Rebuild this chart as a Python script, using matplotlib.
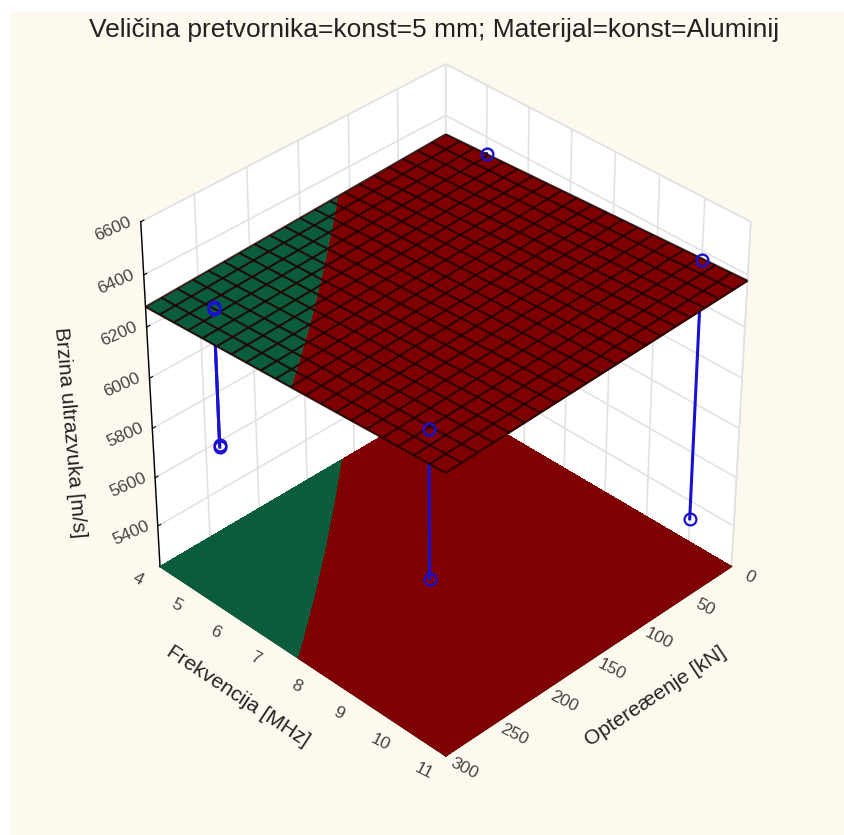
import numpy as np
import matplotlib
matplotlib.use("Agg")
import matplotlib.pyplot as plt
from matplotlib.patches import Rectangle
from mpl_toolkits.mplot3d.art3d import Poly3DCollection

plt.rcParams['font.family'] = ['Liberation Sans', 'DejaVu Sans']

TITLE = "Veličina pretvornika=konst=5 mm; Materijal=konst=Aluminij"
FREQ_LABEL = "Frekvencija [MHz]"
LOAD_LABEL = "Optereæenje [kN]"
SPEED_LABEL = "Brzina ultrazvuka [m/s]"

FREQ_TICKS = [4, 5, 6, 7, 8, 9, 10, 11]
LOAD_TICKS = [0, 50, 100, 150, 200, 250, 300]
SPEED_TICKS = [5400, 5600, 5800, 6000, 6200, 6400, 6600]
FREQ_RANGE = (4, 11)
LOAD_RANGE = (0, 300)
SPEED_RANGE = (5230, 6600)
COLOUR_LIMIT = 6308

# rows: frequency 4 to 11 in 20 steps; columns: load 300 down to 0 in 20 steps; value: speed - 6228
SURFACE = [
 [50.0,52.4,54.8,57.2,59.6,62.0,64.4,66.8,69.2,71.6,74.0,76.4,78.8,81.2,83.6,86.0,88.4,90.8,93.2,95.6,98.0],
 [53.0,55.4,57.8,60.1,62.5,64.9,67.3,69.7,72.0,74.4,76.8,79.2,81.6,83.9,86.3,88.7,91.1,93.5,95.8,98.2,100.6],
 [56.0,58.4,60.7,63.1,65.4,67.8,70.2,72.5,74.9,77.2,79.6,82.0,84.3,86.7,89.0,91.4,93.8,96.1,98.5,100.8,103.2],
 [59.0,61.3,63.7,66.0,68.4,70.7,73.0,75.4,77.7,80.1,82.4,84.7,87.1,89.4,91.8,94.1,96.4,98.8,101.1,103.5,105.8],
 [62.0,64.3,66.6,69.0,71.3,73.6,75.9,78.2,80.6,82.9,85.2,87.5,89.8,92.2,94.5,96.8,99.1,101.4,103.8,106.1,108.4],
 [65.0,67.3,69.6,71.9,74.2,76.5,78.8,81.1,83.4,85.7,88.0,90.3,92.6,94.9,97.2,99.5,101.8,104.1,106.4,108.7,111.0],
 [68.0,70.3,72.6,74.8,77.1,79.4,81.7,84.0,86.2,88.5,90.8,93.1,95.4,97.6,99.9,102.2,104.5,106.8,109.0,111.3,113.6],
 [71.0,73.3,75.5,77.8,80.0,82.3,84.6,86.8,89.1,91.3,93.6,95.9,98.1,100.4,102.6,104.9,107.2,109.4,111.7,113.9,116.2],
 [74.0,76.2,78.5,80.7,83.0,85.2,87.4,89.7,91.9,94.2,96.4,98.6,100.9,103.1,105.4,107.6,109.8,112.1,114.3,116.6,118.8],
 [77.0,79.2,81.4,83.7,85.9,88.1,90.3,92.5,94.8,97.0,99.2,101.4,103.6,105.9,108.1,110.3,112.5,114.7,117.0,119.2,121.4],
 [80.0,82.2,84.4,86.6,88.8,91.0,93.2,95.4,97.6,99.8,102.0,104.2,106.4,108.6,110.8,113.0,115.2,117.4,119.6,121.8,124.0],
 [83.0,85.2,87.4,89.5,91.7,93.9,96.1,98.3,100.4,102.6,104.8,107.0,109.2,111.3,113.5,115.7,117.9,120.1,122.2,124.4,126.6],
 [86.0,88.2,90.3,92.5,94.6,96.8,99.0,101.1,103.3,105.4,107.6,109.8,111.9,114.1,116.2,118.4,120.6,122.7,124.9,127.0,129.2],
 [89.0,91.1,93.3,95.4,97.6,99.7,101.8,104.0,106.1,108.3,110.4,112.5,114.7,116.8,119.0,121.1,123.2,125.4,127.5,129.7,131.8],
 [92.0,94.1,96.2,98.4,100.5,102.6,104.7,106.8,109.0,111.1,113.2,115.3,117.4,119.6,121.7,123.8,125.9,128.0,130.2,132.3,134.4],
 [95.0,97.1,99.2,101.3,103.4,105.5,107.6,109.7,111.8,113.9,116.0,118.1,120.2,122.3,124.4,126.5,128.6,130.7,132.8,134.9,137.0],
 [98.0,100.1,102.2,104.2,106.3,108.4,110.5,112.6,114.6,116.7,118.8,120.9,123.0,125.0,127.1,129.2,131.3,133.4,135.4,137.5,139.6],
 [101.0,103.1,105.1,107.2,109.2,111.3,113.4,115.4,117.5,119.5,121.6,123.7,125.7,127.8,129.8,131.9,134.0,136.0,138.1,140.1,142.2],
 [104.0,106.0,108.1,110.1,112.2,114.2,116.2,118.3,120.3,122.4,124.4,126.4,128.5,130.5,132.6,134.6,136.6,138.7,140.7,142.8,144.8],
 [107.0,109.0,111.0,113.1,115.1,117.1,119.1,121.1,123.2,125.2,127.2,129.2,131.2,133.3,135.3,137.3,139.3,141.3,143.4,145.4,147.4],
 [110.0,112.0,114.0,116.0,118.0,120.0,122.0,124.0,126.0,128.0,130.0,132.0,134.0,136.0,138.0,140.0,142.0,144.0,146.0,148.0,150.0],
]
SURFACE_BASE = 6228

POINT_FREQ = [4.85, 4.85, 10, 10, 5]
POINT_LOAD = [268, 268, 273, 0, 0]
POINT_FIT = [6287, 6279, 6335, 6365, 6335]
POINT_MEASURED = [5745, 5735, 5760, 5325, 6000]

GREEN = "#0b5c3c"
RED = "#7e0000"
BLUE = "#1a10d0"
CREAM = "#fdf9ef"

fig = plt.figure(figsize=(8.45, 8.35), dpi=100, facecolor="white")
fig.add_artist(Rectangle((10 / 845, 0), 835 / 845, 823 / 835, transform=fig.transFigure,
                         facecolor=CREAM, edgecolor="none", zorder=-10))
ax = fig.add_axes([12 / 845, 6.5 / 835, 1, 1], projection="3d", computed_zorder=False)
ax.patch.set_alpha(0)
ax.view_init(elev=36, azim=45)
ax.set_proj_type("persp", focal_length=0.85)
ax.set_box_aspect((1, 1, 1.02), zoom=0.846)

freq = np.linspace(*FREQ_RANGE, len(SURFACE))
load = np.linspace(*LOAD_RANGE, len(SURFACE[0]))
L, F = np.meshgrid(load, freq)
Z = SURFACE_BASE + np.array(SURFACE)[:, ::-1]

ax.set_xlim(*LOAD_RANGE)
ax.set_ylim(*FREQ_RANGE)
ax.set_zlim(*SPEED_RANGE)

levels = [Z.min() - 1, COLOUR_LIMIT, Z.max() + 1]
floor = ax.contourf(L, F, Z, levels=levels, colors=[GREEN, RED], zdir="z", offset=SPEED_RANGE[0])
floor.set_zorder(1)

for f, l, fit, meas in zip(POINT_FREQ, POINT_LOAD, POINT_FIT, POINT_MEASURED):
    ax.plot([l, l], [f, f], [meas, fit], color=BLUE, lw=2.2, zorder=2)
    ax.plot([l], [f], [meas], marker="o", ms=8.5, mfc="none", mec=BLUE, mew=1.6, zorder=2.5)


def surface_height(lv, fv):
    a = np.interp(lv, load, np.arange(len(load)))
    b = np.interp(fv, freq, np.arange(len(freq)))
    i0, j0 = min(int(b), len(freq) - 2), min(int(a), len(load) - 2)
    db, da = b - i0, a - j0
    return (Z[i0, j0] * (1 - db) * (1 - da) + Z[i0, j0 + 1] * (1 - db) * da
            + Z[i0 + 1, j0] * db * (1 - da) + Z[i0 + 1, j0 + 1] * db * da)


def lift(contour_set):
    out = []
    for path in contour_set.get_paths():
        for poly in path.to_polygons():
            out.append([(x, y, surface_height(x, y)) for x, y in poly])
    return out


helper = plt.figure().add_subplot()
parts = helper.contourf(L, F, Z, levels=levels)
polys = lift(parts)
plt.close(helper.figure)
n_green = len(parts.get_paths()[0].to_polygons())
green_coll = Poly3DCollection(polys[:n_green], facecolors=GREEN, edgecolors=GREEN, linewidths=0.3, zorder=3.1)
red_coll = Poly3DCollection(polys[n_green:], facecolors=RED, edgecolors=RED, linewidths=0.3, zorder=3)
ax.add_collection3d(red_coll)
ax.add_collection3d(green_coll)
ax.plot_wireframe(L, F, Z, rstride=1, cstride=1, color="#200000", linewidth=1.5, alpha=0.85, zorder=3.2)

for f, l, fit in zip(POINT_FREQ, POINT_LOAD, POINT_FIT):
    ax.plot([l], [f], [fit], marker="o", ms=8.5, mfc="none", mec=BLUE, mew=1.7, zorder=4)

for axis in (ax.xaxis, ax.yaxis, ax.zaxis):
    axis.set_pane_color((1, 1, 1, 1))
    axis.pane.set_edgecolor("#e2e2e2")
    axis._axinfo["grid"].update(color="#e2e2e2", linewidth=1.2)
    axis.line.set_color("black")
    axis.line.set_linewidth(1.0)
    axis._axinfo["tick"]["inward_factor"] = 0.0
    axis._axinfo["tick"]["outward_factor"] = 0.12

ax.set_xticks(LOAD_TICKS)
ax.set_yticks(FREQ_TICKS)
ax.set_zticks(SPEED_TICKS)
ax.zaxis.set_ticks_position("lower")
ax.tick_params(axis="x", labelrotation=-27, labelsize=12.5, labelcolor="#444444", pad=11)
ax.tick_params(axis="y", labelrotation=-27, labelsize=12.5, labelcolor="#444444", pad=15)
ax.tick_params(axis="z", labelrotation=24, labelsize=12.5, labelcolor="#444444", pad=8)

# keep x and y label offsets within the floor plane
ax.xaxis._axmask = lambda: (False, True, False)
ax.yaxis._axmask = lambda: (True, False, False)
for axis in (ax.xaxis, ax.yaxis):
    for t in axis.get_major_ticks():
        t.label1.set(va="center", ha="center", rotation_mode="anchor")
for t in ax.zaxis.get_major_ticks():
    t.label1.set(va="top", ha="center", rotation_mode="anchor")

ax.set_xlabel(LOAD_LABEL, fontsize=15, color="#222222", labelpad=42)
ax.set_ylabel(FREQ_LABEL, fontsize=15, color="#222222", labelpad=41)
fig.text(70 / 845, 1 - 432 / 835, SPEED_LABEL, fontsize=15, color="#222222", rotation=-85,
         ha="center", va="center", rotation_mode="anchor")

fig.text(434 / 845, 1 - 30 / 835, TITLE, fontsize=19, color="#222222", ha="center", va="center")
fig.savefig("out.png", dpi=100, facecolor=fig.get_facecolor())
